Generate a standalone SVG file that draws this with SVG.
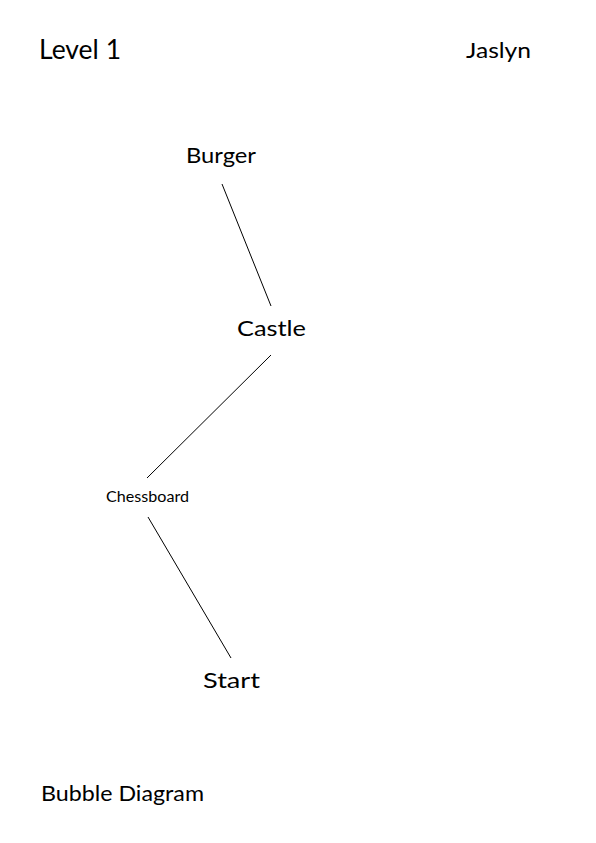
<svg xmlns="http://www.w3.org/2000/svg" width="596" height="843" viewBox="0 0 596 843">
<style>
text{font-family:Lato,"Noto Sans","Liberation Sans",sans-serif;fill:#000}
.l{font-size:21.5px}
line{stroke:#000;stroke-width:1}
</style>
<rect width="596" height="843" fill="#fff"/>
<g id="title"><text x="39" y="59" style="font-size:26px" textLength="82" lengthAdjust="spacingAndGlyphs">Level 1</text></g>
<g id="author"><text x="466" y="58" class="l" textLength="65" lengthAdjust="spacingAndGlyphs">Jaslyn</text></g>
<g id="connectors">
<line x1="222" y1="184" x2="271" y2="306"/>
<line x1="271" y1="355" x2="147" y2="478"/>
<line x1="148" y1="517" x2="231" y2="658"/>
</g>
<g id="burger"><text x="186" y="163" class="l" textLength="70" lengthAdjust="spacingAndGlyphs">Burger</text></g>
<g id="castle"><text x="237" y="336" class="l" textLength="69" lengthAdjust="spacingAndGlyphs">Castle</text></g>
<g id="chessboard"><text x="106" y="502" style="font-size:14.5px" textLength="83" lengthAdjust="spacingAndGlyphs">Chessboard</text></g>
<g id="start"><text x="203" y="688" class="l" textLength="57" lengthAdjust="spacingAndGlyphs">Start</text></g>
<g id="caption"><text x="41" y="801" class="l" textLength="163" lengthAdjust="spacingAndGlyphs">Bubble Diagram</text></g>
</svg>
